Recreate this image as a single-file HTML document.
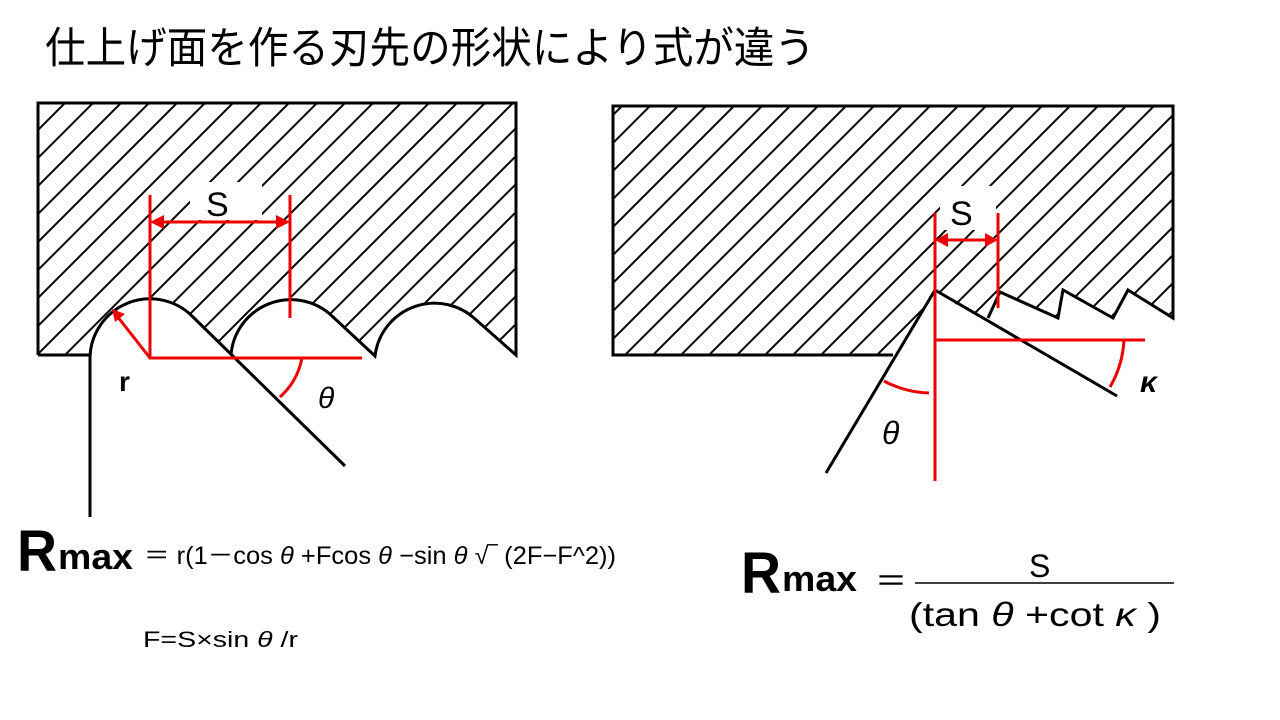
<!DOCTYPE html>
<html><head><meta charset="utf-8"><style>html,body{margin:0;padding:0;background:#fff;}svg{display:block}</style></head>
<body>
<svg width="1280" height="720" viewBox="0 0 1280 720" xmlns="http://www.w3.org/2000/svg" font-family="'Liberation Sans','Noto Sans CJK JP',sans-serif">
<defs>
<pattern id="h" patternUnits="userSpaceOnUse" width="28" height="28">
<path d="M-7,7 L7,-7 M0,28 L28,0 M21,35 L35,21" stroke="#000" stroke-width="2"/>
</pattern>
</defs>
<text x="45" y="63" font-size="43" textLength="770" lengthAdjust="spacingAndGlyphs">仕上げ面を作る刃先の形状により式が違う</text>

<!-- Left block -->
<path d="M38,103 L516,103 L516,355 L474,318 A60,60 0 0 0 376,350 L375,356 L332,316 A60,60 0 0 0 231,355 L192,316 A60,60 0 0 0 90,358 L90,355 L38,355 Z" fill="url(#h)"/>
<path d="M38,355 L38,103 L516,103 L516,355 L474,318 A60,60 0 0 0 376,350 L375,356 L332,316 A60,60 0 0 0 231,355" fill="none" stroke="#000" stroke-width="3"/>
<path d="M38,355 L90,355" stroke="#000" stroke-width="3"/>
<path d="M90,517 L90,358 A60,60 0 0 1 192,316 L345,466" fill="none" stroke="#000" stroke-width="3"/>
<rect x="190" y="182" width="72" height="38" fill="#fff"/>
<text x="206" y="216" font-size="34">S</text>
<g stroke="#e00" stroke-width="3" fill="none">
<path d="M150,195 L150,358 L362,358"/>
<path d="M290,195 L290,318"/>
<path d="M158,222 L282,222"/>
<path d="M150,358 L117,316"/>
<path d="M302,358 A70,70 0 0 1 280,397"/>
</g>
<g fill="#e00">
<path d="M150,222 L164,215 L164,229 Z"/>
<path d="M290,222 L276,215 L276,229 Z"/>
<path d="M112,309 L125,314 L115,322 Z"/>
</g>
<text x="119" y="391" font-size="28" font-weight="bold">r</text>
<text x="318" y="408" font-size="30" font-style="italic">θ</text>

<!-- Right block -->
<path d="M613,106 L1173,106 L1173,318 L1128,290 L1113,318 L1063,290 L1058,318 L1000,292 L988,318 L946,300 L935,290 L893,355 L613,355 Z" fill="url(#h)"/>
<path d="M893,355 L613,355 L613,106 L1173,106 L1173,318 L1128,290 L1113,318 L1063,290 L1058,318 L1000,292 L988,318" fill="none" stroke="#000" stroke-width="3"/>
<path d="M826,473 L935,290 L1117,396" fill="none" stroke="#000" stroke-width="3"/>
<rect x="940" y="186" width="56" height="44" fill="#fff"/>
<text x="950" y="225" font-size="34">S</text>
<g stroke="#e00" stroke-width="3" fill="none">
<path d="M935,213 L935,481"/>
<path d="M998,213 L998,308"/>
<path d="M943,240 L990,240"/>
<path d="M935,340 L1145,340"/>
<path d="M1124,340 A104,104 0 0 1 1110,387"/>
<path d="M884,381 A103,103 0 0 0 929,393"/>
</g>
<g fill="#e00">
<path d="M935,240 L948,233 L948,247 Z"/>
<path d="M998,240 L985,233 L985,247 Z"/>
</g>
<text x="1140" y="392" font-size="30" font-style="italic" font-weight="bold">κ</text>
<text x="882" y="444" font-size="32" font-style="italic">θ</text>

<!-- Left formula -->
<text x="17" y="571" font-size="58" font-weight="bold" textLength="40" lengthAdjust="spacingAndGlyphs">R</text>
<text x="58" y="569" font-size="36" font-weight="bold" textLength="75" lengthAdjust="spacingAndGlyphs">max</text>
<text x="144" y="564" font-size="25" textLength="472" lengthAdjust="spacingAndGlyphs">＝ r(1－cos <tspan font-style="italic">θ</tspan> +Fcos <tspan font-style="italic">θ</tspan> −sin <tspan font-style="italic">θ</tspan> √‾ (2F−F^2))</text>
<text x="143" y="647" font-size="22" textLength="155" lengthAdjust="spacingAndGlyphs">F=S×sin <tspan font-style="italic">θ</tspan> /r</text>

<!-- Right formula -->
<text x="741" y="593" font-size="58" font-weight="bold" textLength="40" lengthAdjust="spacingAndGlyphs">R</text>
<text x="782" y="591" font-size="36" font-weight="bold" textLength="75" lengthAdjust="spacingAndGlyphs">max</text>
<text x="875" y="592" font-size="32">＝</text>
<line x1="915" y1="583" x2="1174" y2="583" stroke="#000" stroke-width="1.5"/>
<text x="1029" y="577" font-size="32">S</text>
<text x="909" y="626" font-size="33" textLength="252" lengthAdjust="spacingAndGlyphs">(tan <tspan font-style="italic">θ</tspan> +cot <tspan font-style="italic">κ</tspan> )</text>
</svg>
</body></html>
